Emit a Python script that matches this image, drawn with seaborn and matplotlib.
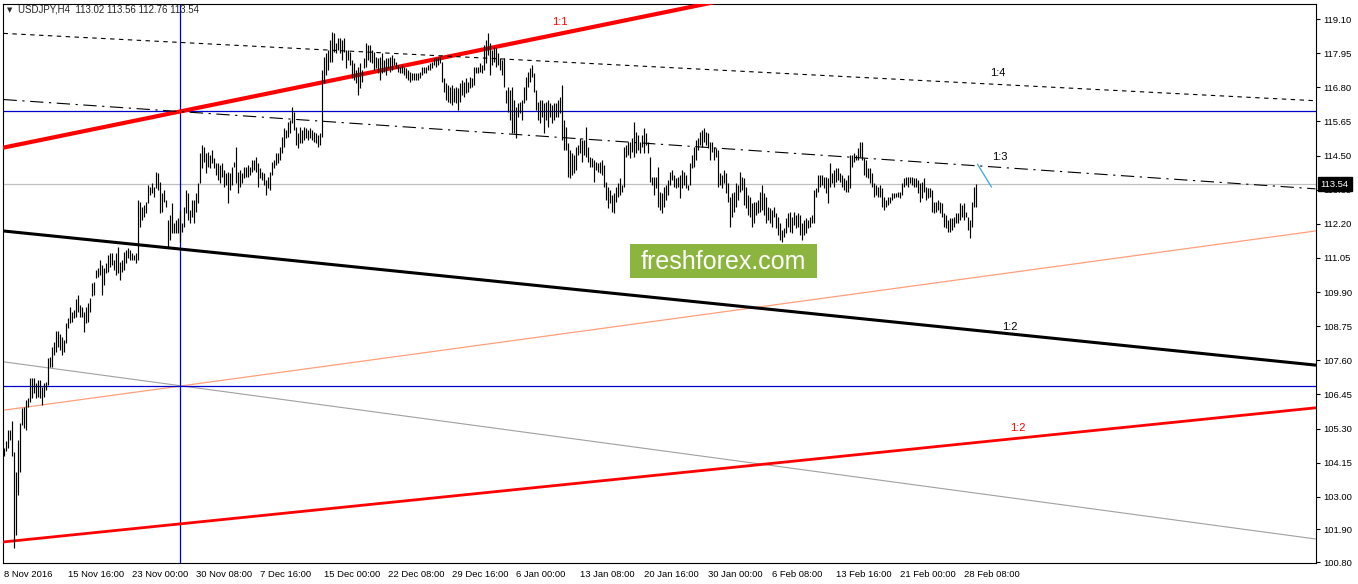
import numpy as np
import pandas as pd
import seaborn as sns
import matplotlib.pyplot as plt
import matplotlib.transforms as mtransforms
from matplotlib.patches import Rectangle

# USDJPY H4 bars (high / low), 8 Nov 2016 .. 1 Mar 2017
bar_high = [
    104.65, 104.88, 105.25, 105.25, 105.55, 104.51, 103.83, 104.91, 105.49, 105.99,
    106.02, 106.26, 106.33, 107.00, 107.00, 107.00, 106.83, 106.93, 106.93, 106.70,
    106.83, 106.87, 107.68, 107.71, 108.05, 108.22, 108.59, 108.59, 108.49, 108.38,
    108.28, 108.86, 109.02, 109.39, 109.23, 109.29, 109.66, 109.80, 109.46, 109.39,
    109.23, 109.39, 109.53, 109.70, 110.20, 110.24, 110.64, 110.71, 110.98, 110.81,
    110.71, 110.88, 111.15, 111.21, 111.21, 110.98, 111.21, 111.42, 110.91, 110.98,
    111.25, 111.32, 111.38, 111.32, 111.21, 111.15, 111.21, 113.00,
    112.93, 112.76, 112.83, 112.93, 113.51, 113.44, 113.57, 113.44, 113.94, 113.91,
    113.61, 113.24, 113.34, 113.00, 112.33, 112.49, 112.90, 112.22, 112.33, 112.39,
    112.66, 112.22, 112.76, 113.34, 113.24, 112.66, 113.00, 113.00, 113.24, 113.57,
    114.58, 114.85, 114.79, 114.58, 114.62, 114.52, 114.69, 114.42, 114.25, 114.25,
    114.18, 114.25, 114.01, 113.91, 113.94, 113.91, 114.11, 114.28, 114.79, 113.94,
    114.01, 113.91, 114.11, 114.11, 114.18, 114.11, 114.35, 114.35, 114.45, 114.25,
    114.08, 113.94, 113.91, 113.67, 113.77, 113.94, 114.28, 114.35, 114.58, 114.58,
    114.79, 115.12, 115.43, 115.36, 115.63, 115.70, 116.13, 115.97, 115.46, 115.26,
    115.46, 115.36, 115.46, 115.43, 115.36, 115.43, 115.36, 115.29, 115.26, 115.19,
    115.26, 117.38, 117.82, 117.95, 118.06, 118.39, 118.66, 118.63, 118.29, 118.46,
    118.46,
    118.39, 118.46, 118.06, 118.06, 117.99, 117.72, 117.62, 117.38, 117.48, 117.62,
    117.38, 117.79, 118.29, 118.22, 118.22, 118.06, 117.99, 117.82, 117.79, 117.82,
    117.95, 117.72, 117.79, 117.79, 117.82, 117.89, 117.79, 117.65, 117.55, 117.48,
    117.55, 117.48, 117.45, 117.38, 117.31, 117.28, 117.28, 117.28, 117.28, 117.31,
    117.48, 117.48, 117.48, 117.55, 117.62, 117.65, 117.79, 117.79, 117.82, 117.82,
    117.65, 117.11, 116.94, 116.88, 116.81, 116.88, 116.77, 116.81, 116.77, 116.94,
    117.04, 116.98, 117.11, 116.98, 117.14, 117.11, 117.48, 117.48, 117.48, 117.62,
    117.55, 118.22, 118.39, 118.63, 118.29, 118.06, 118.16, 118.12, 117.95, 117.79,
    117.72, 117.79, 116.71, 116.81, 116.71, 116.81, 116.37, 116.13, 116.27, 116.30,
    116.37, 116.81, 117.14, 117.31, 117.45, 117.55, 117.28, 116.71, 116.30, 116.37,
    116.37, 116.27, 116.30, 116.37, 116.27, 116.20, 116.27, 116.27, 116.37, 116.47,
    116.88, 115.70, 115.46,
    114.92, 114.69, 114.58, 114.52, 114.79, 114.85, 115.09, 115.02, 115.02, 115.46,
    114.79, 114.45, 114.42, 114.35, 114.28, 114.25, 114.28, 114.35, 114.18, 113.61,
    113.44, 113.34, 113.17, 113.24, 113.44, 113.57, 113.74, 113.51, 114.79, 114.85,
    114.95, 114.95, 115.09, 115.63, 115.29, 115.19, 114.95, 115.19, 115.43, 115.26,
    114.95, 114.45, 113.77, 113.77, 113.77, 114.11, 113.27, 113.24, 113.44, 113.51,
    113.67, 113.94, 114.01, 113.84, 113.74, 113.77, 113.84, 114.01, 113.94, 113.84,
    113.51, 114.25, 114.52, 114.79, 115.02, 115.09, 115.29, 115.36, 115.43, 115.29,
    115.26, 114.95, 114.95, 114.79, 114.75, 114.69, 113.91, 113.84, 114.01, 113.91,
    113.57, 113.10, 113.24, 113.27, 113.57, 113.51, 113.94, 113.77, 113.74, 113.44,
    113.17, 113.10, 112.90, 112.93, 112.93, 113.00, 113.27, 113.51, 113.24, 113.10,
    112.76, 112.73, 112.66, 112.76, 112.56, 112.43, 112.22, 111.99, 112.06, 112.39,
    112.56, 112.60, 112.43, 112.60, 112.49, 112.56, 112.49, 112.22, 112.33, 112.39,
    112.33, 112.43, 112.49, 113.34, 113.40, 113.84, 113.84, 113.84, 113.77, 113.77,
    113.74, 114.25, 113.91, 114.01, 114.08, 114.08, 113.91, 113.84, 113.74, 113.67,
    113.84, 114.52, 114.52, 114.58, 114.52, 114.75, 114.95, 114.95, 114.42, 114.35,
    114.08, 114.08, 113.91, 113.57, 113.51, 113.44, 113.51, 113.40, 113.10, 113.00,
    113.10, 113.10, 113.24, 113.24, 113.24, 113.27, 113.27, 113.57, 113.74, 113.77,
    113.77, 113.77, 113.77, 113.74, 113.74, 113.67, 113.57, 113.61, 113.74, 113.44,
    113.40, 113.40, 113.34, 112.93, 112.93, 113.00, 112.93, 112.90, 112.56, 112.49,
    112.33, 112.39, 112.39, 112.43, 112.56, 112.56, 112.90, 112.83, 112.90, 112.60,
    112.43, 112.33, 112.93, 113.44, 113.56,
]
bar_low = [
    104.38, 104.54, 104.65, 104.91, 104.38, 101.27, 101.71, 103.06, 103.83, 105.42,
    105.32, 105.25, 106.02, 106.19, 106.33, 106.50, 106.33, 106.36, 106.33, 106.09,
    106.36, 106.60, 106.77, 107.37, 107.37, 107.78, 107.88, 108.05, 107.95, 107.78,
    107.88, 108.18, 108.69, 108.86, 108.89, 109.02, 109.06, 109.23, 109.06, 109.06,
    108.55, 108.86, 108.89, 109.23, 109.76, 109.80, 110.37, 110.41, 110.47, 109.80,
    110.14, 110.54, 110.57, 110.74, 110.81, 110.64, 110.47, 110.54, 110.31, 110.57,
    110.64, 110.88, 111.05, 110.98, 110.98, 110.98, 110.88, 110.98,
    112.08, 112.33, 112.43, 112.56, 112.90, 113.17, 113.24, 113.10, 113.40, 113.34,
    112.56, 112.60, 112.93, 112.76, 111.42, 111.65, 111.89, 111.89, 111.89, 111.89,
    111.58, 111.92, 112.08, 112.56, 112.33, 112.22, 112.43, 112.22, 112.60, 112.90,
    113.57, 114.08, 114.28, 113.91, 114.11, 114.08, 114.25, 114.08, 113.84, 113.67,
    113.57, 113.77, 113.44, 113.51, 112.90, 113.34, 113.51, 114.11, 113.57, 113.24,
    113.44, 113.57, 113.74, 113.77, 113.77, 113.84, 113.94, 114.01, 113.94, 113.44,
    113.74, 113.67, 113.51, 113.17, 113.40, 113.34, 113.84, 114.08, 114.18, 114.25,
    114.35, 114.58, 114.79, 115.09, 115.12, 115.26, 115.59, 115.36, 114.85, 114.75,
    114.92, 114.92, 115.02, 115.09, 115.02, 115.09, 115.02, 114.95, 114.92, 114.79,
    114.85, 115.12, 116.94, 117.21, 117.38, 117.65, 117.65, 117.99, 117.95, 118.06,
    117.95,
    117.72, 117.99, 117.45, 117.72, 117.55, 117.11, 117.04, 116.94, 116.54, 116.77,
    116.98, 117.45, 117.48, 117.72, 117.65, 117.62, 117.38, 117.45, 117.28, 117.04,
    117.28, 117.31, 117.21, 117.45, 117.31, 117.38, 117.55, 117.45, 117.31, 117.28,
    117.28, 117.21, 117.11, 117.04, 116.98, 117.04, 117.04, 117.04, 117.04, 117.11,
    117.21, 117.28, 117.28, 117.38, 117.38, 117.45, 117.55, 117.48, 117.55, 117.62,
    116.98, 116.64, 116.37, 116.30, 116.27, 116.20, 116.30, 116.27, 116.03, 116.30,
    116.54, 116.47, 116.61, 116.64, 116.77, 116.81, 116.88, 117.28, 117.28, 117.31,
    117.28, 117.38, 117.62, 117.89, 117.21, 117.55, 117.65, 117.48, 117.55, 117.38,
    117.21, 116.81, 116.27, 115.97, 115.70, 115.26, 115.26, 115.09, 115.80, 115.93,
    115.70, 116.27, 116.37, 116.81, 116.98, 117.14, 116.64, 116.03, 115.70, 115.59,
    115.80, 115.26, 115.70, 115.46, 115.80, 115.59, 115.70, 115.80, 115.80, 115.93,
    115.02, 114.69, 114.69,
    113.77, 113.74, 113.84, 113.91, 114.01, 114.52, 114.58, 114.28, 114.52, 114.45,
    114.28, 114.11, 114.11, 113.61, 114.01, 113.94, 113.91, 113.84, 113.44, 113.00,
    112.73, 112.90, 112.60, 112.56, 112.93, 113.10, 113.17, 113.27, 113.44, 114.45,
    114.52, 114.42, 114.62, 114.45, 114.58, 114.69, 114.58, 114.79, 114.58, 114.85,
    114.58, 113.61, 113.51, 113.17, 113.40, 112.76, 112.66, 112.56, 112.76, 113.00,
    113.17, 113.51, 113.67, 113.44, 113.40, 113.44, 113.07, 113.40, 113.51, 113.40,
    113.34, 113.51, 114.08, 114.11, 114.35, 114.69, 114.85, 114.79, 114.95, 114.85,
    114.75, 114.35, 114.62, 114.35, 114.45, 113.44, 113.51, 113.40, 113.57, 113.24,
    112.93, 112.09, 112.43, 112.60, 112.76, 113.00, 113.27, 113.34, 112.83, 112.73,
    112.49, 112.43, 112.09, 112.22, 112.49, 112.56, 112.60, 112.66, 112.49, 112.22,
    112.33, 112.22, 112.09, 112.43, 112.06, 111.82, 111.65, 111.58, 111.75, 111.89,
    112.09, 111.92, 111.89, 112.16, 112.06, 112.09, 111.82, 111.65, 111.82, 111.89,
    112.06, 112.09, 112.22, 112.22, 113.10, 113.27, 113.44, 113.51, 113.40, 113.24,
    112.90, 113.44, 113.57, 113.44, 113.61, 113.67, 113.61, 113.44, 113.34, 113.27,
    113.27, 113.40, 114.11, 114.28, 114.35, 114.35, 114.45, 114.35, 113.84, 113.77,
    113.74, 113.57, 113.44, 113.10, 113.17, 113.10, 113.10, 112.76, 112.66, 112.76,
    112.83, 112.90, 113.00, 113.07, 113.10, 113.10, 113.07, 113.17, 113.44, 113.51,
    113.44, 113.57, 113.51, 113.44, 113.44, 113.24, 112.93, 113.07, 113.27, 113.00,
    113.07, 113.10, 112.60, 112.56, 112.60, 112.66, 112.56, 112.43, 112.09, 112.06,
    111.92, 111.92, 111.99, 112.09, 112.22, 112.22, 112.33, 112.43, 112.33, 112.43,
    111.99, 111.72, 112.09, 112.76, 112.76,
]

date_labels = ["8 Nov 2016", "15 Nov 16:00", "23 Nov 00:00", "30 Nov 08:00",
               "7 Dec 16:00", "15 Dec 00:00", "22 Dec 08:00", "29 Dec 16:00",
               "6 Jan 00:00", "13 Jan 08:00", "20 Jan 16:00", "30 Jan 00:00",
               "6 Feb 08:00", "13 Feb 16:00", "21 Feb 00:00", "28 Feb 08:00"]
bars_per_label = 32

price_ticks = [119.10, 117.95, 116.80, 115.65, 114.50, 113.35, 112.20, 111.05,
               109.90, 108.75, 107.60, 106.45, 105.30, 104.15, 103.00, 101.90, 100.80]

last_price = 113.54
ohlc_text = "USDJPY,H4  113.02 113.56 112.76 113.54"

# chart objects: price at first bar and at right edge of chart
fan_bars = [0, 656]
fan_1to1_red = [114.77, 123.82]
fan_1to4 = [118.62, 116.35]
fan_1to3 = [116.39, 113.38]
fan_1to2_black = [111.96, 107.44]
fan_salmon = [105.92, 111.96]
fan_gray = [107.55, 101.58]
fan_1to2_red = [101.48, 106.00]
hlines_blue = [116.00, 106.72]
vline_bar = 88
cyan_bars = [487, 494]
cyan_prices = [114.21, 113.44]

sns.set_style("white")
plt.rcParams['font.family'] = ['Liberation Sans', 'DejaVu Sans']

fig = plt.figure(figsize=(13.58, 5.84), dpi=100)
ax = fig.add_axes([3 / 1358, 1 - 563 / 584, 1313 / 1358, 559 / 584])

idx = np.arange(len(bar_high))
ax.vlines(idx, bar_low, bar_high, color='black', linewidth=0.85, zorder=4)

def fan(vals, **kw):
    sns.lineplot(x=fan_bars, y=vals, ax=ax, legend=False, **kw)

fan(fan_1to1_red, color='#ff0000', linewidth=3.0, zorder=3)
fan(fan_1to4, color='black', linewidth=0.8, linestyle=(0, (4, 4)), zorder=3)
fan(fan_1to3, color='black', linewidth=0.8, linestyle=(0, (12, 5, 2, 5)), zorder=3)
fan(fan_1to2_black, color='black', linewidth=2.2, zorder=3)
fan(fan_salmon, color='#ff9f7a', linewidth=0.9, zorder=2)
fan(fan_gray, color='#a0a0a0', linewidth=0.8, zorder=2)
fan(fan_1to2_red, color='#ff0000', linewidth=2.0, zorder=3)

for h in hlines_blue:
    ax.axhline(h, color='#0000cd', linewidth=0.9, zorder=2)
ax.axhline(last_price, color='#c0c0c0', linewidth=0.9, zorder=1)
ax.axvline(vline_bar, color='#0000cd', linewidth=0.9, zorder=2)
sns.lineplot(x=cyan_bars, y=cyan_prices, ax=ax, color='#33aadd', linewidth=0.9)

ax.text(278, 119.00, "1:1", color='#ff0000', fontsize=8, ha='center', va='center')
ax.text(497, 117.28, "1:4", color='black', fontsize=8, ha='center', va='center')
ax.text(498, 114.45, "1:3", color='black', fontsize=8, ha='center', va='center')
ax.text(503, 108.72, "1:2", color='black', fontsize=8, ha='center', va='center')
ax.text(507, 105.32, "1:2", color='#ff0000', fontsize=8, ha='center', va='center')

ax.set_xlim(-0.25, 656.25)
ax.set_ylim(100.77, 119.61)

ax.set_xticks(np.arange(len(date_labels)) * bars_per_label)
ax.set_xticklabels(date_labels, ha='left')
ax.set_yticks(price_ticks)
ax.set_yticklabels([f"{p:.2f}" for p in price_ticks])
ax.yaxis.tick_right()
ax.tick_params(axis='both', direction='out', length=3, width=0.8, labelsize=6.8,
               colors='black', pad=2)
ax.set_xlabel("")
ax.set_ylabel("")
for s in ax.spines.values():
    s.set_visible(True)
    s.set_color('black')
    s.set_linewidth(0.8)

trans = mtransforms.blended_transform_factory(ax.transAxes, ax.transData)
ax.text(1.0035, last_price, f"{last_price:.2f}", transform=trans, color='white',
        fontsize=6.8, ha='left', va='center', zorder=10, clip_on=False,
        bbox=dict(boxstyle='square,pad=0.3', fc='black', ec='black'))

fig.text(7 / 1358, 1 - 10 / 584, "\u25bc", fontsize=5, va='center', ha='left',
         family=['DejaVu Sans'])
fig.text(18 / 1358, 1 - 10 / 584, ohlc_text, fontsize=7, va='center', ha='left')

fig.patches.append(Rectangle((630 / 1358, 1 - 278 / 584), 187 / 1358, 34 / 584,
                             transform=fig.transFigure, facecolor='#8cb53f',
                             edgecolor='none', zorder=5))
fig.text(723.5 / 1358, 1 - 262 / 584, "freshforex.com", color='white', fontsize=18,
         ha='center', va='center', zorder=6)

fig.savefig("out.png", dpi=100, facecolor='white')
